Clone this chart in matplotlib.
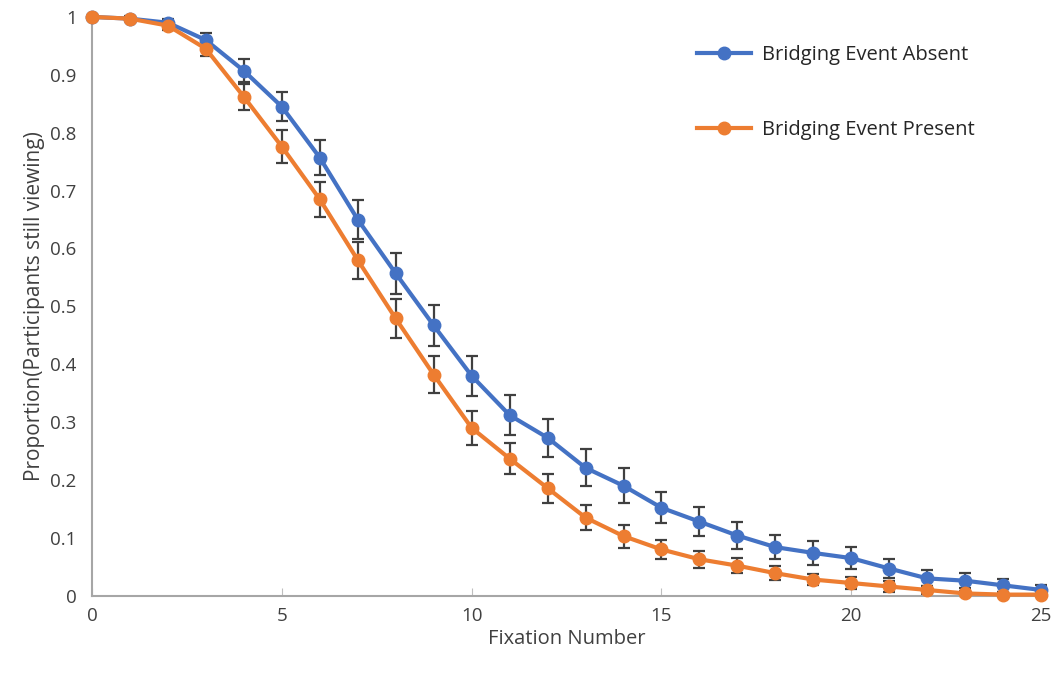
import matplotlib.pyplot as plt
from matplotlib.ticker import FuncFormatter

# fixation number on x, proportion still viewing on y
fixations = list(range(26))
absent = [1.0, 0.997, 0.99, 0.96, 0.907, 0.845, 0.757, 0.65, 0.557, 0.467,
          0.38, 0.312, 0.273, 0.221, 0.19, 0.152, 0.128, 0.104, 0.084, 0.074,
          0.065, 0.047, 0.030, 0.026, 0.018, 0.01]
absent_err = [0.0, 0.004, 0.006, 0.013, 0.02, 0.025, 0.03, 0.033, 0.035, 0.036,
              0.035, 0.034, 0.033, 0.032, 0.03, 0.027, 0.025, 0.023, 0.021, 0.02,
              0.019, 0.016, 0.014, 0.013, 0.011, 0.009]
present = [1.0, 0.997, 0.985, 0.945, 0.862, 0.776, 0.685, 0.58, 0.479, 0.382,
           0.29, 0.237, 0.186, 0.135, 0.103, 0.08, 0.063, 0.052, 0.039, 0.028,
           0.022, 0.016, 0.01, 0.004, 0.002, 0.002]
present_err = [0.0, 0.003, 0.008, 0.013, 0.022, 0.028, 0.03, 0.032, 0.033, 0.032,
               0.03, 0.027, 0.025, 0.022, 0.02, 0.017, 0.015, 0.013, 0.012, 0.01,
               0.01, 0.009, 0.007, 0.005, 0.004, 0.003]

labels = ['Bridging Event Absent', 'Bridging Event Present']
colors = ['#4472C4', '#ED7D31']
x_ticks = [0, 5, 10, 15, 20, 25]
y_ticks = [0, 0.1, 0.2, 0.3, 0.4, 0.5, 0.6, 0.7, 0.8, 0.9, 1]

plt.rcParams['font.family'] = ['Open Sans', 'DejaVu Sans']

fig = plt.figure(figsize=(10.57, 6.77), dpi=100)
ax = fig.add_axes([0.087, 0.12, 0.898, 0.855])

for ys, errs, col, lab in [(absent, absent_err, colors[0], labels[0]),
                           (present, present_err, colors[1], labels[1])]:
    ax.errorbar(fixations, ys, yerr=errs, fmt='none', ecolor='#404040',
                elinewidth=1.6, capsize=4.5, capthick=1.6, zorder=2, clip_on=False)
    ax.plot(fixations, ys, color=col, lw=3, marker='o', ms=9, label=lab,
            zorder=3, clip_on=False)

ax.set_xlim(0, 25)
ax.set_ylim(0, 1)
ax.set_xticks(x_ticks)
ax.set_yticks(y_ticks)
ax.yaxis.set_major_formatter(FuncFormatter(lambda v, p: f'{v:g}'))
ax.tick_params(axis='x', direction='in', length=6, color='#BFBFBF',
               labelsize=13.5, labelcolor='#404040', pad=8)
ax.tick_params(axis='y', length=0, labelsize=13.5, labelcolor='#404040', pad=11)

for s in ['top', 'right']:
    ax.spines[s].set_visible(False)
for s in ['left', 'bottom']:
    ax.spines[s].set_color('#A6A6A6')
    ax.spines[s].set_linewidth(1.5)

ax.set_xlabel('Fixation Number', fontsize=14.5, color='#404040', labelpad=3)
ax.set_ylabel('Proportion(Participants still viewing)', fontsize=15,
              color='#404040', labelpad=4)

ax.legend(loc='upper left', bbox_to_anchor=(0.618, 0.983), frameon=False,
          fontsize=14.5, labelspacing=2.75, handlelength=2.7, handletextpad=0.55,
          labelcolor='#262626')

fig.savefig('out.png', dpi=100)
